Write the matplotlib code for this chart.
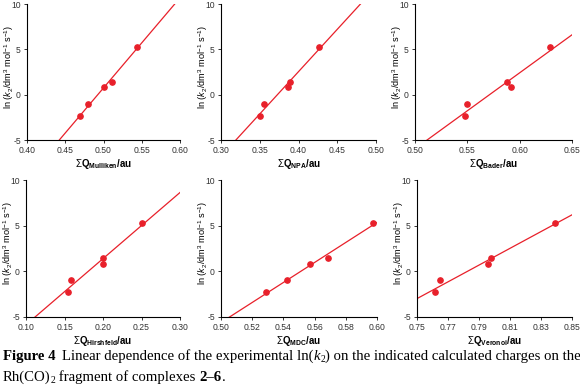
import numpy as np
import matplotlib
matplotlib.use('Agg')
import matplotlib.pyplot as plt

plt.rcParams['font.family'] = ['Liberation Sans', 'DejaVu Sans']
plt.rcParams['mathtext.fontset'] = 'custom'
plt.rcParams['mathtext.rm'] = 'Liberation Sans'
plt.rcParams['mathtext.it'] = 'Liberation Sans:italic'
plt.rcParams['mathtext.bf'] = 'Liberation Sans:bold'

# 六种电荷与 ln(k2)
q_mulliken = [0.469, 0.480, 0.500, 0.511, 0.544]
lnk_mulliken = [-2.35, -1.07, 0.81, 1.43, 5.29]
q_npa = [0.350, 0.356, 0.3865, 0.389, 0.427]
lnk_npa = [-2.3, -1.05, 0.8, 1.4, 5.3]
q_bader = [0.548, 0.5498, 0.592, 0.5878, 0.6286]
lnk_bader = [-2.3, -1.0, 0.8, 1.4, 5.3]
q_hirsh = [0.154, 0.158, 0.2004, 0.200, 0.251]
lnk_hirsh = [-2.3, -1.0, 0.85, 1.45, 5.3]
q_mdc = [0.5289, 0.5425, 0.5572, 0.5687, 0.5976]
lnk_mdc = [-2.3, -1.0, 0.85, 1.45, 5.3]
q_vero = [0.7618, 0.765, 0.7958, 0.798, 0.839]
lnk_vero = [-2.3, -1.0, 0.85, 1.45, 5.3]

names = ['Mulliken', 'NPA', 'Bader', 'Hirshfeld', 'MDC', 'Veronoi']
xs = [q_mulliken, q_npa, q_bader, q_hirsh, q_mdc, q_vero]
ys = [lnk_mulliken, lnk_npa, lnk_bader, lnk_hirsh, lnk_mdc, lnk_vero]
xlims = [(0.40, 0.60), (0.30, 0.50), (0.50, 0.65), (0.10, 0.30), (0.50, 0.60), (0.75, 0.85)]
xsteps = [0.05, 0.05, 0.05, 0.05, 0.02, 0.02]
yticks = [-5, 0, 5, 10]

W, H = 580, 390
fig = plt.figure(figsize=(5.8, 3.9), dpi=100)

# 像素位置 (left, right, top, bottom)
boxes = [(27, 180, 4, 140), (221, 376, 4, 140), (415, 572, 4, 140),
         (26, 180, 180, 317), (221, 377, 180, 317), (417, 572, 180, 317)]

red = '#e8202a'
for i in range(6):
    l, r, t, b = boxes[i]
    ax = fig.add_axes([l / W, 1 - b / H, (r - l) / W, (b - t) / H])
    x = np.array(xs[i])
    y = np.array(ys[i])
    ax.plot(x, y, 'o', color=red, markersize=3.8, zorder=3, clip_on=False)
    k, c = np.polyfit(x, y, 1)
    xx = np.array(xlims[i])
    ax.plot(xx, k * xx + c, color=red, lw=0.9)
    ax.set_xlim(xlims[i])
    ax.set_ylim(-5, 10)
    lo, hi = xlims[i]
    ticks = np.arange(lo, hi + 1e-9, xsteps[i])
    ax.set_xticks(ticks)
    ax.set_xticklabels(['%.2f' % v for v in ticks])
    ax.set_yticks(yticks)
    ax.set_yticklabels([str(v) for v in yticks])  # 用连字符 -5
    ax.spines['right'].set_visible(False)
    ax.spines['top'].set_visible(False)
    ax.spines['left'].set_linewidth(0.8)
    ax.spines['bottom'].set_linewidth(0.8)
    ax.tick_params(labelsize=6.2, length=2.5, width=0.7, pad=2, colors='#333333')
    ax.set_ylabel(r'ln ($k_2$/dm$^3$ mol$^{-1}$ s$^{-1}$)', fontsize=6.6)
    ax.yaxis.set_label_coords(-11 / (r - l), 0.54)
    ax.set_xlabel(r'$\Sigma\mathbf{Q}_{\mathbf{' + names[i] + r'}}$/au', fontsize=7,
                  fontweight='bold', labelpad=1.5)

# 图注，逐段拼接
serif = ['Liberation Serif', 'DejaVu Serif']
fig.canvas.draw()
renderer = fig.canvas.get_renderer()


def caption(pieces, x0, y0, size=10.6):
    x = x0
    for s, kw in pieces:
        t = fig.text(x / W, 1 - y0 / H, s, fontsize=kw.get('size', size), family=serif,
                     fontweight=kw.get('weight', 'normal'), style=kw.get('style', 'normal'))
        if 'dy' in kw:
            t.set_y(1 - (y0 + kw['dy']) / H)
        bb = t.get_window_extent(renderer)
        x += bb.width + kw.get('gap', 0)


caption([('Figure 4', {'weight': 'bold', 'gap': 7}),
         ('Linear dependence of the experimental ln(', {}),
         ('k', {'style': 'italic'}),
         ('2', {'size': 7, 'dy': 2}),
         (') on the indicated calculated charges on the', {})], 3, 360)
caption([('Rh(CO)', {}),
         ('2', {'size': 7, 'dy': 2}),
         (' fragment of complexes ', {}),
         ('2\u20136', {'weight': 'bold'}),
         ('.', {})], 3, 381)

fig.savefig('out.png', dpi=100)
